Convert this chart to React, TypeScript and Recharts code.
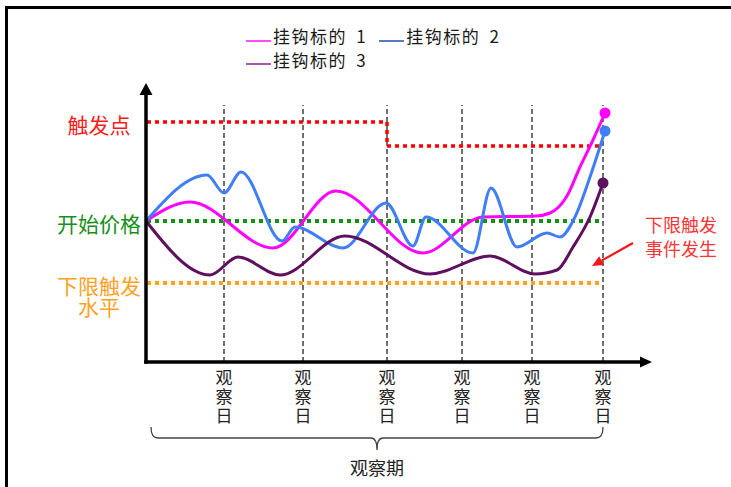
import React from 'react';
import { LineChart, Line, XAxis, YAxis, ReferenceLine, Legend } from 'recharts';

const FONT = '"Noto Sans CJK SC", "Noto Sans", sans-serif';

// observation days (x units) and label
const obsDays = [78, 157, 241, 316, 386, 457];
const obsLabel = '观察日';
const periodLabel = '观察期';

// price levels (y units)
const startLevel = 141;
const lowerLevel = 79;
const triggerHigh = 240;
const triggerLow = 216;
const triggerStepDay = 241;
const lastDay = 457;

const levelTicks = [triggerHigh, startLevel, lowerLevel];
const levelLabels = [['触发点'], ['开始价格'], ['下限触发', '水平']];
const levelColors = ['#ff1a1a', '#17901a', '#ffa11f'];

const eventLabel = ['下限触发', '事件发生'];

// series
const seriesNames = ['挂钩标的 1', '挂钩标的 2', '挂钩标的 3'];
const seriesColors = ['#ff00ff', '#3f7ef7', '#5e0f5e'];
const legendColors = ['#ff4dff', '#5a78c8', '#a55ca5'];

const s1Days = [0, 44, 127, 190, 277, 337, 390, 404, 421, 434, 447, 459];
const s1Vals = [141, 160, 114, 171, 109, 145, 146, 149, 166, 195, 222, 249];

const s2Days = [0, 61, 78, 95, 136, 149, 197, 240, 267, 280, 327, 345, 371, 401, 414, 429, 444, 459];
const s2Vals = [141, 187, 169, 190, 121, 135, 114, 159, 116, 145, 109, 174, 115, 129, 125, 145, 185, 231];

const s3Days = [0, 64, 92, 134, 199, 284, 344, 389, 411, 427, 444, 457];
const s3Vals = [141, 87, 105, 87, 126, 88, 106, 88, 92, 115, 145, 179];

const toData = (days: number[], vals: number[]) => days.map((t, i) => ({ t, v: vals[i] }));
const seriesData = [toData(s1Days, s1Vals), toData(s2Days, s2Vals), toData(s3Days, s3Vals)];

const endDot = (color: string, n: number) => (props: any) => {
  const { cx, cy, index } = props;
  if (index !== n - 1) return <g key={`e${index}`} />;
  return <circle key={`e${index}`} cx={cx} cy={cy} r={5.5} fill={color} />;
};

const ObsTick = (props: any) => {
  const { x, y } = props;
  return (
    <foreignObject x={x - 12} y={y + 4.5} width={24} height={60}>
      <div style={{ width: 24, fontSize: 17, lineHeight: '19px', textAlign: 'center', fontFamily: FONT, color: '#222', wordBreak: 'break-all' }}>
        {obsLabel}
      </div>
    </foreignObject>
  );
};

const LevelTick = (props: any) => {
  const { x, y, index } = props;
  const lines = levelLabels[index] || [];
  return (
    <foreignObject x={x - 47 - 60} y={y + 2 - 10.5} width={120} height={50}>
      <div style={{ width: 120, fontSize: 21, lineHeight: '21px', textAlign: 'center', fontFamily: FONT, color: levelColors[index], whiteSpace: 'pre-line' }}>
        {lines.join('\n')}
      </div>
    </foreignObject>
  );
};

const ArrowAxis = (dir: 'up' | 'right') => (props: any) => {
  const { x1, y1, x2, y2 } = props;
  if (dir === 'up') {
    return (
      <g>
        <line x1={x1} y1={y1 + 1.75} x2={x2} y2={y2 + 10} stroke="#000" strokeWidth={3.5} />
        <polygon points={`${x2},${y2} ${x2 - 6.5},${y2 + 12} ${x2 + 6.5},${y2 + 12}`} fill="#000" />
      </g>
    );
  }
  return (
    <g>
      <line x1={x1 - 1.75} y1={y1} x2={x2 - 10} y2={y2} stroke="#000" strokeWidth={3.5} />
      <polygon points={`${x2},${y2} ${x2 - 12},${y2 - 5.5} ${x2 - 12},${y2 + 5.5}`} fill="#000" />
    </g>
  );
};

const BraceShape = (props: any) => {
  const { x1, y1, x2 } = props;
  const top = y1 + 65;
  const mid = y1 + 76;
  const bot = y1 + 88;
  const cx = (x1 + x2) / 2;
  const d = `M${x1},${top} Q${x1},${mid} ${x1 + 7},${mid} L${cx - 6},${mid} Q${cx},${mid} ${cx},${bot} Q${cx},${mid} ${cx + 6},${mid} L${x2 - 7},${mid} Q${x2},${mid} ${x2},${top}`;
  return (
    <g>
      <path d={d} fill="none" stroke="#444" strokeWidth={1.3} />
      <text x={cx} y={y1 + 105} textAnchor="middle" dominantBaseline="central" fontSize={18}
        fontFamily={FONT} fill="#222">{periodLabel}</text>
    </g>
  );
};

const EventArrow = (props: any) => {
  const { x1, y1, x2, y2 } = props;
  const ang = Math.atan2(y2 - y1, x2 - x1);
  const len = 11;
  const w = 5;
  const bx = x2 - len * Math.cos(ang);
  const by = y2 - len * Math.sin(ang);
  const px = -Math.sin(ang) * w;
  const py = Math.cos(ang) * w;
  return (
    <g>
      <line x1={x1} y1={y1} x2={bx} y2={by} stroke="#f01818" strokeWidth={2.2} />
      <polygon points={`${x2},${y2} ${bx + px},${by + py} ${bx - px},${by - py}`} fill="#f01818" />
      <text x={x1 + 48} y={y1 - 19} textAnchor="middle" dominantBaseline="central"
        fontSize={18} fontFamily={FONT} fill="#ff3535">
        {eventLabel.map((l, i) => (
          <tspan key={i} x={x1 + 48} dy={i === 0 ? 0 : 23.5}>{l}</tspan>
        ))}
      </text>
    </g>
  );
};

const LegendContent = () => (
  <div style={{ width: 280, display: 'flex', flexWrap: 'wrap', fontFamily: FONT, fontSize: 17, color: '#1a1a1a', lineHeight: '23.5px' }}>
    {seriesNames.map((n, i) => (
      <div key={n} style={{ display: 'flex', alignItems: 'center', marginRight: 12, whiteSpace: 'pre' }}>
        <span style={{ display: 'inline-block', width: 25, height: 2, background: legendColors[i], position: 'relative', top: 5, marginRight: 2 }} />
        <span style={{ letterSpacing: 1.5, wordSpacing: 4 }}>{n}</span>
      </div>
    ))}
  </div>
);

export default function App() {
  return (
    <div style={{ position: 'absolute', left: 0, top: 0, width: 731, height: 487, background: '#fff', overflow: 'hidden' }}>
      <div style={{ position: 'absolute', left: 5, top: 6, width: 726, height: 481, borderTop: '3px solid #000', borderLeft: '3px solid #000' }} />
      <div style={{ position: 'absolute', left: 0, top: 0 }}>
        <LineChart width={731} height={487} margin={{ top: 82, right: 75, bottom: 95, left: 0 }}>
          <XAxis type="number" dataKey="t" domain={[0, 510]} ticks={obsDays} interval={0} height={30}
            axisLine={false} tickLine={false} tickSize={0} tickMargin={0} tick={<ObsTick />} allowDataOverflow />
          <YAxis type="number" domain={[0, 280]} ticks={levelTicks} interval={0} width={146}
            axisLine={false} tickLine={false} tickSize={0} tickMargin={0} tick={<LevelTick />} allowDataOverflow />
          <Legend layout="vertical" align="center" verticalAlign="middle" content={<LegendContent />}
            wrapperStyle={{ top: 24, left: 246, width: 280, height: 50 }} />

          {obsDays.map((d) => (
            <ReferenceLine key={`obs${d}`} segment={[{ x: d, y: 0 }, { x: d, y: 257 }]}
              stroke="#222" strokeWidth={1.3} strokeDasharray="5 3" />
          ))}

          <ReferenceLine segment={[{ x: 1, y: triggerHigh }, { x: triggerStepDay, y: triggerHigh }]}
            stroke="#ff0000" strokeWidth={3.5} strokeDasharray="4 4" />
          <ReferenceLine segment={[{ x: triggerStepDay, y: triggerHigh }, { x: triggerStepDay, y: triggerLow }]}
            stroke="#ff0000" strokeWidth={3.5} strokeDasharray="4 4" />
          <ReferenceLine segment={[{ x: triggerStepDay, y: triggerLow }, { x: lastDay, y: triggerLow }]}
            stroke="#ff0000" strokeWidth={3.5} strokeDasharray="4 4" />
          <ReferenceLine segment={[{ x: 1, y: startLevel }, { x: lastDay, y: startLevel }]}
            stroke="#138f13" strokeWidth={4} strokeDasharray="4 4" />
          <ReferenceLine segment={[{ x: 1, y: lowerLevel }, { x: lastDay, y: lowerLevel }]}
            stroke="#ffa31a" strokeWidth={4} strokeDasharray="4 4" />

          {seriesData.map((data, i) => (
            <Line key={seriesNames[i]} name={seriesNames[i]} data={data} dataKey="v" type="monotone"
              stroke={seriesColors[i]} strokeWidth={3} dot={endDot(seriesColors[i], data.length)}
              activeDot={false} isAnimationActive={false} />
          ))}

          <ReferenceLine segment={[{ x: 0, y: 0 }, { x: 0, y: 279 }]} shape={ArrowAxis('up')} />
          <ReferenceLine segment={[{ x: 0, y: 0 }, { x: 506, y: 0 }]} shape={ArrowAxis('right')} />
          <ReferenceLine segment={[{ x: 5, y: 0 }, { x: lastDay, y: 0 }]} shape={BraceShape} />
          <ReferenceLine segment={[{ x: 487, y: 119 }, { x: 446, y: 96 }]} shape={EventArrow} />
        </LineChart>
      </div>
    </div>
  );
}
